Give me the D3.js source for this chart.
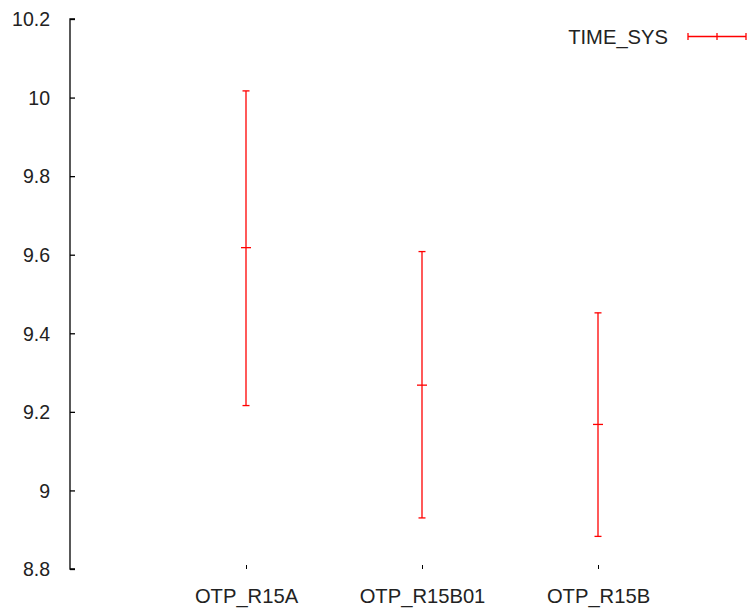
<!DOCTYPE html>
<html>
<head>
<meta charset="utf-8">
<script src="https://cdn.jsdelivr.net/npm/d3@7"></script>
<style>
  body { margin: 0; background: #fff; }
  text { font-family: "Liberation Sans", Arial, sans-serif; fill: #222; }
</style>
</head>
<body>
<div id="chart"></div>
<script>
// data
const releases = ["OTP_R15A", "OTP_R15B01", "OTP_R15B"];
const meanVals = [9.618, 9.268, 9.168];
const lowVals = [9.216, 8.930, 8.883];
const highVals = [10.017, 9.608, 9.452];
const yTicks = [8.8, 9, 9.2, 9.4, 9.6, 9.8, 10, 10.2];
const seriesName = "TIME_SYS";

const width = 749, height = 611;
const plotLeft = 70, plotTop = 19, plotBottom = 569;

const svg = d3.select("#chart").append("svg")
    .attr("width", width)
    .attr("height", height);

// x is index based, gnuplot style range [-1, 3]
const x = d3.scaleLinear().domain([-1, 3]).range([plotLeft, 774]);
const y = d3.scaleLinear().domain([8.8, 10.2]).range([plotBottom, plotTop]);

// left axis, ticks pointing inward
const yAxis = svg.append("g")
    .attr("transform", `translate(${plotLeft},0)`)
    .call(d3.axisRight(y).tickValues(yTicks).tickSize(5).tickFormat(d3.format("")));
yAxis.select(".domain").attr("d", `M5,${plotTop}H0V${plotBottom}H5`).attr("stroke", "#000").attr("stroke-width", 1.3);
yAxis.selectAll(".tick line").attr("stroke", "#000").attr("stroke-width", 1.3);
yAxis.selectAll(".tick text")
    .attr("x", -20)
    .attr("dy", "0.35em")
    .attr("text-anchor", "end")
    .style("font-size", "19.5px")
    .attr("fill", "#222");

// bottom ticks only (no axis line)
const xAxis = svg.append("g")
    .attr("transform", `translate(0,${plotBottom})`)
    .call(d3.axisTop(x).tickValues(d3.range(releases.length)).tickSize(4).tickFormat(i => releases[i]));
xAxis.select(".domain").remove();
xAxis.selectAll(".tick line").attr("stroke", "#000");
xAxis.selectAll(".tick text")
    .attr("y", 34)
    .attr("dy", 0)
    .style("font-size", "20.2px")
    .attr("fill", "#222");

// error bars
const red = "#ff0000";
const bars = svg.append("g")
    .selectAll("g")
    .data(releases.map((r, i) => ({ r, i, mean: meanVals[i], lo: lowVals[i], hi: highVals[i] })))
    .enter()
    .append("g")
    .attr("stroke", red)
    .attr("stroke-width", 1.3);

bars.append("line")
    .attr("x1", d => x(d.i)).attr("x2", d => x(d.i))
    .attr("y1", d => y(d.hi)).attr("y2", d => y(d.lo));
bars.append("line")
    .attr("x1", d => x(d.i) - 3.5).attr("x2", d => x(d.i) + 3.5)
    .attr("y1", d => y(d.hi)).attr("y2", d => y(d.hi));
bars.append("line")
    .attr("x1", d => x(d.i) - 3.5).attr("x2", d => x(d.i) + 3.5)
    .attr("y1", d => y(d.lo)).attr("y2", d => y(d.lo));
bars.append("line")
    .attr("x1", d => x(d.i) - 5).attr("x2", d => x(d.i) + 5)
    .attr("y1", d => y(d.mean)).attr("y2", d => y(d.mean));

// legend
const leg = svg.append("g").attr("transform", "translate(0,36.5)");
leg.append("text")
    .attr("x", 668)
    .attr("dy", "0.35em")
    .attr("text-anchor", "end")
    .style("font-size", "20.2px")
    .text(seriesName);
const lg = leg.append("g").attr("stroke", red).attr("stroke-width", 1.3);
lg.append("line").attr("x1", 688).attr("x2", 746).attr("y1", 0).attr("y2", 0);
[688, 717, 746].forEach(px => {
    lg.append("line").attr("x1", px).attr("x2", px).attr("y1", -3.5).attr("y2", 3.5);
});
</script>
</body>
</html>
